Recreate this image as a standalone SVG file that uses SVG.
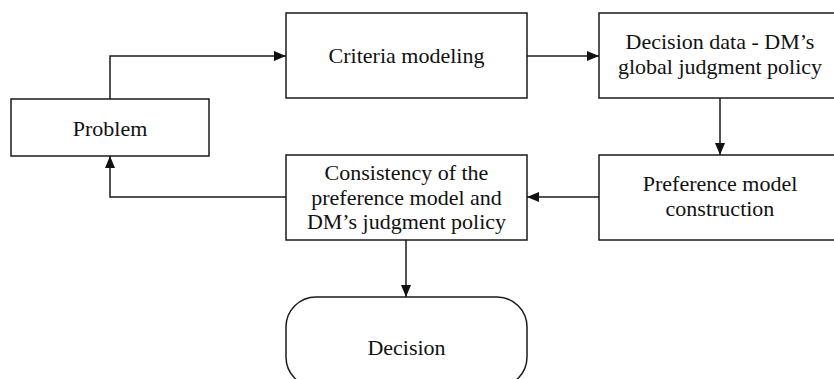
<svg xmlns="http://www.w3.org/2000/svg" width="834" height="379" viewBox="0 0 834 379">
<style>
.box{fill:#fff;stroke:#1a1a1a;stroke-width:1.5}
.t{font-size:22px;fill:#111;text-anchor:middle}
.c{fill:none;stroke:#1a1a1a;stroke-width:1.5}
</style>
<defs>
<marker id="ah" viewBox="0 0 12 10" refX="12" refY="5" markerWidth="12" markerHeight="10" markerUnits="userSpaceOnUse" orient="auto">
<path d="M0,0 L12,5 L0,10 Z" fill="#111"/>
</marker>
</defs>
<rect width="834" height="379" fill="#fff"/>
<g id="connectors">
<path class="c" d="M110,99 V56 H286" marker-end="url(#ah)"/>
<path class="c" d="M527,56 H599" marker-end="url(#ah)"/>
<path class="c" d="M720,98 V155" marker-end="url(#ah)"/>
<path class="c" d="M599,197 H527" marker-end="url(#ah)"/>
<path class="c" d="M286,197 H110 V156" marker-end="url(#ah)"/>
<path class="c" d="M406,240 V297" marker-end="url(#ah)"/>
</g>
<g font-family="'Liberation Serif', 'Times New Roman', Times, 'DejaVu Serif', serif">
<g id="problem">
<rect class="box" x="11" y="99" width="198" height="57"/>
<text class="t" x="110" y="135.5">Problem</text>
</g>
<g id="criteria">
<rect class="box" x="286" y="13" width="241" height="85"/>
<text class="t" x="406.5" y="63">Criteria modeling</text>
</g>
<g id="decision-data">
<rect class="box" x="599" y="13" width="242" height="85"/>
<text class="t" x="720" y="48.5">Decision data - DM’s</text>
<text class="t" x="720" y="73.5">global judgment policy</text>
</g>
<g id="preference">
<rect class="box" x="599" y="155" width="242" height="85"/>
<text class="t" x="720" y="191">Preference model</text>
<text class="t" x="720" y="216">construction</text>
</g>
<g id="consistency">
<rect class="box" x="286" y="155" width="241" height="85"/>
<text class="t" x="406.5" y="180">Consistency of the</text>
<text class="t" x="406.5" y="204.5">preference model and</text>
<text class="t" x="406.5" y="229">DM’s judgment policy</text>
</g>
<g id="decision">
<rect class="box" x="286" y="297" width="241" height="90" rx="30" ry="30"/>
<text class="t" x="406.5" y="355">Decision</text>
</g>
</g>
</svg>
